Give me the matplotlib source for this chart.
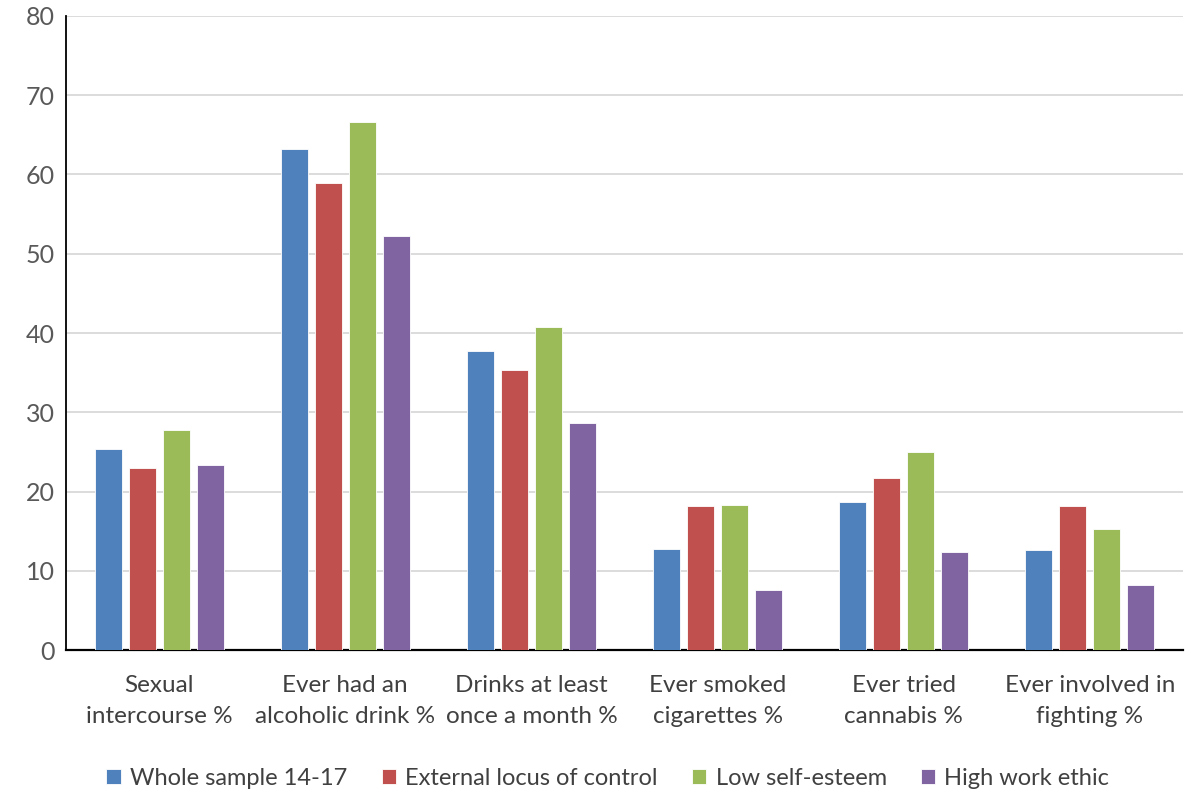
import matplotlib.pyplot as plt
import numpy as np

categories = ["Sexual\nintercourse %", "Ever had an\nalcoholic drink %", "Drinks at least\nonce a month %",
              "Ever smoked\ncigarettes %", "Ever tried\ncannabis %", "Ever involved in\nfighting %"]
series_names = ["Whole sample 14-17", "External locus of control", "Low self-esteem", "High work ethic"]
whole_sample = [25.4, 63.2, 37.8, 12.8, 18.7, 12.6]
external_locus = [23.0, 58.9, 35.4, 18.2, 21.7, 18.2]
low_self_esteem = [27.8, 66.6, 40.8, 18.3, 25.0, 15.3]
high_work_ethic = [23.3, 52.3, 28.7, 7.6, 12.4, 8.2]
y_ticks = [0, 10, 20, 30, 40, 50, 60, 70, 80]

colors = ["#4F81BD", "#C0504D", "#9BBB59", "#8064A2"]

plt.rcParams["font.family"] = ["Lato", "DejaVu Sans"]

fig = plt.figure(figsize=(11.92, 7.93), dpi=100)
ax = fig.add_axes([0.0554, 0.18, 0.937, 0.80])

x = np.arange(len(categories))
step = 0.183
w = 0.145
data = [whole_sample, external_locus, low_self_esteem, high_work_ethic]
for i, (vals, name, c) in enumerate(zip(data, series_names, colors)):
    ax.bar(x + (i - 1.5) * step, vals, w, color=c, edgecolor="white", linewidth=0.6,
           label=name, zorder=3)

ax.set_xlim(-0.5, len(categories) - 0.5)
ax.set_ylim(0, 80)
ax.set_yticks(y_ticks)
ax.yaxis.grid(True, color="#D9D9D9", lw=1.3, zorder=0)
ax.set_axisbelow(True)
ax.tick_params(axis="y", length=0, pad=8, labelsize=18, labelcolor="#595959")
ax.tick_params(axis="x", length=0, pad=18, labelsize=17.5, labelcolor="#404040")
ax.set_xticks(x)
ax.set_xticklabels(categories, linespacing=1.55)
for s in ["top", "right"]:
    ax.spines[s].set_visible(False)
ax.spines["left"].set_color("black")
ax.spines["left"].set_linewidth(1.3)
ax.spines["bottom"].set_color("black")
ax.spines["bottom"].set_linewidth(1.6)

fig.legend(loc="lower center", ncol=4, frameon=False, fontsize=17,
           bbox_to_anchor=(0.51, -0.022), handlelength=0.6, handleheight=0.6,
           handletextpad=0.4, columnspacing=1.45, labelcolor="#404040")

fig.savefig("out.png", dpi=100, facecolor="white")
